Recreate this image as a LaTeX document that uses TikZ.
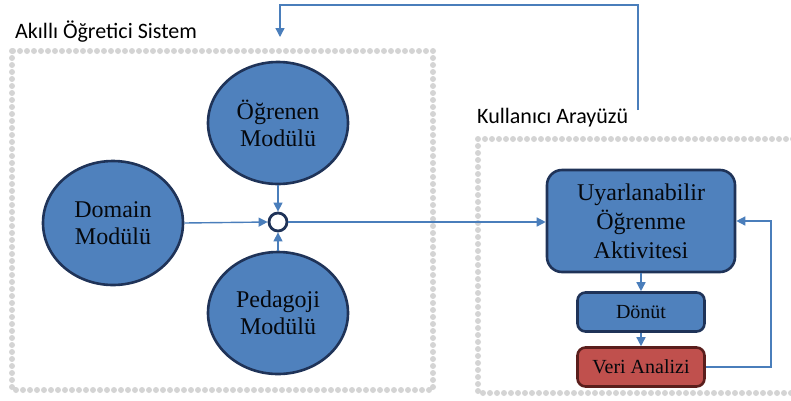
\documentclass[tikz,border=0pt]{standalone}
\usepackage{fontspec}
\setmainfont{Liberation Serif}
\newfontfamily\lblfont{Carlito}
\usetikzlibrary{arrows.meta,shapes.geometric}
\definecolor{fillblue}{HTML}{4F81BD}
\definecolor{navy}{HTML}{1F3358}
\definecolor{fillred}{HTML}{C0504D}
\definecolor{darkred}{HTML}{5A1E1C}
\definecolor{dotgray}{HTML}{D4D4D4}
\definecolor{linkblue}{HTML}{4A7EBB}
\tikzset{
  modnode/.style={ellipse, draw=navy, fill=fillblue, line width=2.6pt, minimum width=140pt, minimum height=122pt, inner sep=0pt, align=center, font=\fontsize{24}{27}\selectfont, text=black!85!navy},
  boxnode/.style={rectangle, rounded corners=8pt, draw=navy, fill=fillblue, line width=2.6pt, minimum width=127pt, minimum height=39pt, inner sep=0pt, align=center, font=\fontsize{20}{24}\selectfont, text=black!85!navy},
  dotbox/.style={draw=dotgray, line width=6pt, line cap=round, dash pattern=on 0pt off 7pt},
  link/.style={draw=linkblue, line width=1.4pt, -{Triangle[length=9pt,width=9pt]}},
  grouplabel/.style={anchor=base west, inner sep=0pt, font=\lblfont\fontsize{22}{26}\selectfont, text=black},
}
\begin{document}
\begin{tikzpicture}[x=1pt,y=-1pt]
\useasboundingbox (0,0) rectangle (791,400);
\clip (0,0) rectangle (791,400);
% group frames
\draw[dotbox] (12,51) rectangle (433,390);
\draw[dotbox] (478,139) rectangle (798,393);
\node[grouplabel] (lblA) at (15,38) {Akıllı Öğretici Sistem};
\node[grouplabel] (lblK) at (477,123) {Kullanıcı Arayüzü};
% modules
\node[modnode] (oe) at (278,123) {Öğrenen\\Modülü};
\node[modnode, minimum height=124pt] (dm) at (113,223) {Domain\\Modülü};
\node[modnode] (pe) at (278,313) {Pedagoji\\Modülü};
\node[circle, draw=navy, fill=white, line width=2.8pt, minimum size=18pt, inner sep=0pt] (j) at (278,222) {};
% interface
\node[boxnode, rounded corners=15pt, minimum width=188pt, minimum height=102pt, font=\fontsize{24}{29}\selectfont] (ua) at (641,221) {Uyarlanabilir\\Öğrenme\\Aktivitesi};
\node[boxnode, font=\fontsize{20}{24}\selectfont] (dn) at (641,312) {Dönüt};
\node[boxnode, draw=darkred, fill=fillred] (va) at (641,367) {Veri Analizi};
% connectors
\draw[link] (oe.south) -- (j.north);
\draw[link] (pe.north) -- (j.south);
\draw[link] (dm.east) -- (j.west);
\draw[link] (j.east) -- (j.east -| ua.west);
\draw[link] (ua.south) -- (dn.north);
\draw[link] (dn.south) -- (va.north);
\coordinate (fb) at (771,367);
\draw[link] (va.east) -- (fb) |- (ua.east);
\coordinate (t1) at (638,110);
\coordinate (t2) at (280,5);
\coordinate (t3) at (280,37);
\draw[link] (t1) |- (t2) -- (t3);
\end{tikzpicture}
\end{document}
